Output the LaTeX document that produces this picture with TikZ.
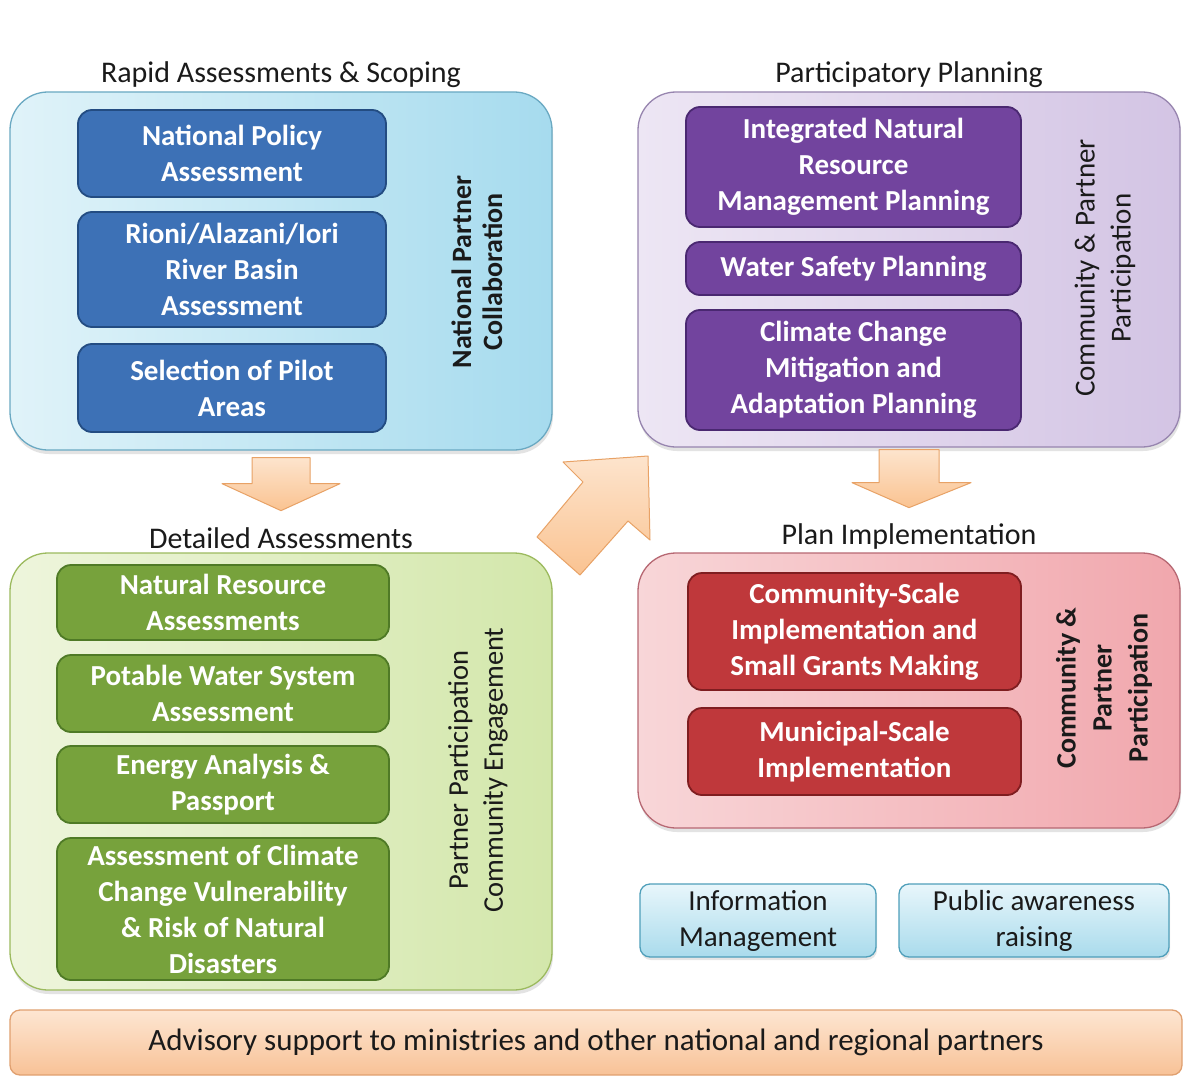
\documentclass[tikz,border=0pt]{standalone}
\usepackage{fontspec}
\setmainfont{Carlito}
\usetikzlibrary{positioning,shadows}
\definecolor{ink}{HTML}{1A1A1A}
\definecolor{bluelt}{HTML}{E0F3F9}
\definecolor{bluedk}{HTML}{A6DBEE}
\definecolor{blueedge}{HTML}{6AA9C2}
\definecolor{bluecard}{HTML}{3D71B6}
\definecolor{bluecardedge}{HTML}{234C82}
\definecolor{purplelt}{HTML}{EDE6F4}
\definecolor{purpledk}{HTML}{D3C4E4}
\definecolor{purpleedge}{HTML}{9785AF}
\definecolor{purplecard}{HTML}{72449E}
\definecolor{purplecardedge}{HTML}{4A2871}
\definecolor{greenlt}{HTML}{EEF5DC}
\definecolor{greendk}{HTML}{D3E7AB}
\definecolor{greenedge}{HTML}{9CBA5E}
\definecolor{greencard}{HTML}{77A23C}
\definecolor{greencardedge}{HTML}{4F7A26}
\definecolor{redlt}{HTML}{F8D6D8}
\definecolor{reddk}{HTML}{F1A7AD}
\definecolor{rededge}{HTML}{B76873}
\definecolor{redcard}{HTML}{BF383B}
\definecolor{redcardedge}{HTML}{7F1D20}
\definecolor{arrowlt}{HTML}{FDE4CD}
\definecolor{arrowdk}{HTML}{FAC391}
\definecolor{arrowedge}{HTML}{E8A266}
\definecolor{infolt}{HTML}{E8F6FB}
\definecolor{infodk}{HTML}{A9DBEC}
\definecolor{infoedge}{HTML}{4F9FBA}
\definecolor{advlt}{HTML}{FDE6D2}
\definecolor{advdk}{HTML}{F8C297}
\definecolor{advedge}{HTML}{E0A070}
\tikzset{
  panel/.style={rounded corners=38pt,line width=1.3pt,inner sep=0pt,
                drop shadow={opacity=0.22,shadow xshift=1pt,shadow yshift=-4pt}},
  stagecard/.style={rounded corners=14pt,line width=1.8pt,text=white,inner sep=2pt,
                    align=center,font=\fontsize{29}{36}\selectfont\bfseries},
  headline/.style={font=\fontsize{30}{34}\selectfont,text=ink,inner sep=1pt},
  sidenote/.style={rotate=90,align=center,text=ink,font=\fontsize{29}{36}\selectfont},
  infobox/.style={rounded corners=10pt,line width=1.3pt,draw=infoedge,
                  top color=infolt,bottom color=infodk,align=center,text=ink,
                  font=\fontsize{29}{36}\selectfont,
                  drop shadow={opacity=0.2,shadow xshift=1pt,shadow yshift=-3pt}},
  bigarrow/.style={draw=arrowedge,line width=1pt,line join=round,
                   top color=arrowlt,bottom color=arrowdk}
}
\begin{document}
\begin{tikzpicture}[x=1pt,y=-1pt]
  \useasboundingbox (0,0) rectangle (1194,1078);
  \fill[white] (0,0) rectangle (1194,1078);

  % four stage panels
  \node[panel,draw=blueedge,left color=bluelt,right color=bluedk,
        minimum width=542,minimum height=358] (rapid) at (281,271) {};
  \node[panel,draw=purpleedge,left color=purplelt,right color=purpledk,
        minimum width=542,minimum height=355] (plan) at (909,269.5) {};
  \node[panel,draw=greenedge,left color=greenlt,right color=greendk,
        minimum width=542,minimum height=437] (detail) at (281,771.5) {};
  \node[panel,draw=rededge,left color=redlt,right color=reddk,
        minimum width=542,minimum height=275] (impl) at (909,690.5) {};

  % panel headings
  \node[headline,anchor=south] (rapidT) at ([yshift=2]rapid.north) {Rapid Assessments \& Scoping};
  \node[headline,anchor=south] (planT) at ([yshift=2]plan.north) {Participatory Planning};
  \node[headline,anchor=south] (detailT) at ([yshift=2]detail.north) {Detailed Assessments};
  \node[headline,anchor=south] (implT) at ([yshift=2]impl.north) {Plan Implementation};

  % activity cards
  \foreach \nm/\y/\h/\txt in {policy/153.5/87/{National Policy\\Assessment},
      basin/269.5/115/{Rioni/Alazani/Iori\\River Basin\\Assessment},
      pilot/388/88/{Selection of Pilot\\Areas}} {
    \node[stagecard,fill=bluecard,draw=bluecardedge,minimum width=308,minimum height=\h]
      (\nm) at (232,\y) {\txt};
  }
  \foreach \nm/\y/\h/\txt in {inrm/167/120/{Integrated Natural\\Resource\\Management Planning},
      wsp/268.5/53/{Water Safety Planning},
      ccap/370/120/{Climate Change\\Mitigation and\\Adaptation Planning}} {
    \node[stagecard,fill=purplecard,draw=purplecardedge,minimum width=335,minimum height=\h]
      (\nm) at (853.5,\y) {\txt};
  }
  \foreach \nm/\y/\h/\txt in {nra/602.5/75/{Natural Resource\\Assessments},
      water/693.5/77/{Potable Water System\\Assessment},
      energy/784.5/77/{Energy Analysis \&\\Passport},
      risk/909/142/{Assessment of Climate\\Change Vulnerability\\\& Risk of Natural\\Disasters}} {
    \node[stagecard,fill=greencard,draw=greencardedge,minimum width=332,minimum height=\h]
      (\nm) at (223,\y) {\txt};
  }
  \foreach \nm/\y/\h/\txt in {csi/631.5/117/{Community-Scale\\Implementation and\\Small Grants Making},
      msi/751.5/87/{Municipal-Scale\\Implementation}} {
    \node[stagecard,fill=redcard,draw=redcardedge,minimum width=333,minimum height=\h]
      (\nm) at (854.5,\y) {\txt};
  }

  % side labels
  \node[sidenote,font=\fontsize{28}{31}\selectfont\bfseries] (rapidS) at (477,272)
    {National Partner\\Collaboration};
  \node[sidenote] (planS) at (1105,268) {Community \& Partner\\Participation};
  \node[sidenote,font=\fontsize{28.5}{35}\selectfont] (detailS) at (478,770)
    {Partner Participation\\Community Engagement};
  \node[sidenote,font=\fontsize{28}{36}\selectfont\bfseries] (implS) at (1104,688)
    {Community \&\\Partner\\Participation};

  % block arrows between stages
  \begin{scope}[shift={(rapid.south)},yshift=-7]
    \draw[bigarrow] (-29,0) -- (29,0) -- (29,26) -- (59,26) -- (0,53)
      -- (-59,26) -- (-29,26) -- cycle;
  \end{scope}
  \begin{scope}[shift={(plan.south)},yshift=-2]
    \draw[bigarrow] (-30,0) -- (30,0) -- (30,33) -- (62,33) -- (0,58)
      -- (-57,33) -- (-30,33) -- cycle;
  \end{scope}
  \draw[bigarrow] (648,456) -- (650,540) -- (628,521) -- (580,575) -- (537,537)
    -- (583,482) -- (563,462) -- cycle;

  % cross-cutting activities
  \node[infobox,minimum width=236,minimum height=73] (infoM) at (758,920.5)
    {Information\\Management};
  \node[infobox,minimum width=270,minimum height=73] (aware) at (1034,920.5)
    {Public awareness\\raising};
  \node[rounded corners=10pt,line width=1.3pt,draw=advedge,top color=advlt,bottom color=advdk,
        minimum width=1172,minimum height=65,text=ink,font=\fontsize{31}{34}\selectfont]
    (advice) at (596,1042.5)
    {Advisory support to ministries and other national and regional partners};
\end{tikzpicture}
\end{document}
